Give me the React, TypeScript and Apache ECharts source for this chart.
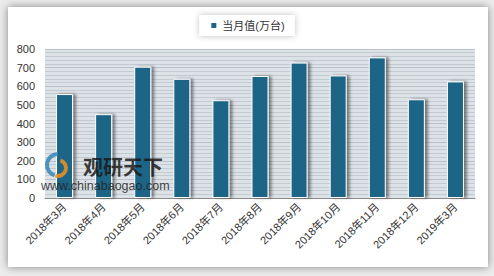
import React, { useEffect, useRef } from "react";
import * as echarts from "echarts";

const categories = [
  "2018年3月", "2018年4月", "2018年5月", "2018年6月", "2018年7月", "2018年8月",
  "2018年9月", "2018年10月", "2018年11月", "2018年12月", "2019年3月",
];
const seriesName = "当月值(万台)";
const values = [558, 450, 705, 640, 525, 655, 727, 658, 755, 530, 626];
const yTicks = [0, 100, 200, 300, 400, 500, 600, 700, 800];

const FONT = "'Liberation Sans', 'Noto Sans CJK SC', sans-serif";

export default function App() {
  const ref = useRef<HTMLDivElement>(null);
  useEffect(() => {
    if (!ref.current) return;
    const chart = echarts.init(ref.current, null, { renderer: "svg" });
    chart.setOption({
      animation: false,
      backgroundColor: "#ececec",
      textStyle: { fontFamily: FONT },
      graphic: [
        {
          type: "rect",
          z: -10,
          silent: true,
          shape: { x: 8, y: 7, width: 480, height: 260 },
          style: { fill: "#ffffff", shadowBlur: 8, shadowColor: "rgba(0,0,0,0.45)" },
        },
        {
          type: "arc",
          z: 20,
          shape: { cx: 58, cy: 165, r: 11, startAngle: Math.PI * 0.6, endAngle: Math.PI * 1.5 },
          style: { stroke: "#2a7fb5", lineWidth: 4, fill: "none", opacity: 0.8 },
        },
        {
          type: "arc",
          z: 20,
          shape: { cx: 58, cy: 168, r: 8, startAngle: Math.PI * 1.6, endAngle: Math.PI * 2.6 },
          style: { stroke: "#f0921e", lineWidth: 4, fill: "none", opacity: 0.85 },
        },
        {
          type: "text",
          z: 20,
          left: 83,
          top: 156,
          style: { text: "观研天下", font: "bold 20px 'Noto Sans CJK SC', sans-serif", fill: "#1a1a1a", opacity: 0.85, lineHeight: 20 },
        },
        {
          type: "text",
          z: 20,
          left: 41,
          top: 179,
          style: { text: "www.chinabaogao.com", font: "12.5px " + FONT, fill: "#222", opacity: 0.85, lineHeight: 13 },
        },
      ],
      legend: {
        top: 15,
        left: "center",
        data: [seriesName],
        icon: "rect",
        itemWidth: 7,
        itemHeight: 7,
        itemGap: 5,
        padding: [5, 10, 5, 10],
        backgroundColor: "#ffffff",
        shadowBlur: 6,
        shadowColor: "rgba(0,0,0,0.25)",
        textStyle: { fontSize: 11, color: "#333", fontFamily: FONT },
      },
      grid: {
        left: 45,
        right: 19,
        top: 49,
        bottom: 78,
        show: true,
        backgroundColor: "#dde2e7",
        borderWidth: 0,
      },
      xAxis: {
        type: "category",
        data: categories,
        axisLine: { lineStyle: { color: "#8a8a8a", width: 1 } },
        axisTick: { show: false },
        axisLabel: { rotate: 45, fontSize: 11, color: "#333", margin: 7, interval: 0, fontFamily: FONT },
      },
      yAxis: {
        type: "value",
        min: yTicks[0],
        max: yTicks[yTicks.length - 1],
        interval: 100,
        axisLine: { show: false },
        axisTick: { show: false },
        axisLabel: { fontSize: 11, color: "#333", margin: 10, fontFamily: FONT },
        splitLine: { show: true, lineStyle: { color: "#b9c2ca", width: 1 } },
        minorTick: { show: false, splitNumber: 5 },
        minorSplitLine: { show: true, lineStyle: { color: "#c3cbd2", width: 1 } },
      },
      series: [
        {
          name: seriesName,
          type: "bar",
          data: values,
          barWidth: 17,
          itemStyle: {
            color: "#1b6586",
            borderColor: "#ffffff",
            borderWidth: 1,
            shadowBlur: 3,
            shadowOffsetX: 3,
            shadowOffsetY: 0,
            shadowColor: "rgba(0,0,0,0.45)",
          },
        },
      ],
    });
    return () => chart.dispose();
  }, []);
  return (
    <div
      ref={ref}
      style={{ position: "fixed", left: 0, top: 0, width: 494, height: 276 }}
    />
  );
}
